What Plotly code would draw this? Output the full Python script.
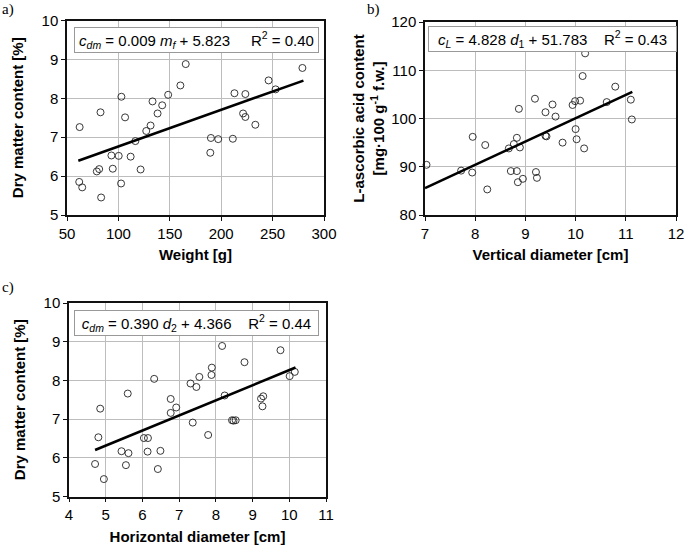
import plotly.graph_objects as go

# ---- Panel a: weight vs dry matter ----
a_weight = [61.9, 64.8, 62.3, 79.0, 81.3, 82.6, 83.2, 93.2, 94.5, 100.3, 102.6, 102.9,
            106.5, 111.9, 116.5, 121.6, 127.1, 131.3, 133.2, 138.1, 142.6, 148.4, 160.3,
            165.5, 189.4, 190.0, 197.1, 211.3, 212.9, 221.3, 223.5, 223.5, 233.2, 246.1,
            252.9, 279.0]
a_dm = [5.85, 5.71, 7.26, 6.12, 6.18, 7.64, 5.45, 6.53, 6.19, 6.52, 5.81, 8.04,
        7.51, 6.50, 6.90, 6.17, 7.16, 7.30, 7.92, 7.61, 7.82, 8.09, 8.33,
        8.88, 6.60, 6.98, 6.95, 6.96, 8.13, 7.61, 8.11, 7.52, 7.32, 8.46,
        8.23, 8.78]
a_fit = (0.0094, 5.823)
a_fit_x = [61, 280]

# ---- Panel b: vertical diameter vs L-ascorbic acid ----
b_diam = [7.03, 7.72, 7.94, 7.95, 8.20, 8.24, 8.67, 8.71, 8.77, 8.83, 8.83, 8.85,
          8.87, 8.89, 8.95, 9.19, 9.21, 9.23, 9.40, 9.40, 9.42, 9.54, 9.60, 9.74,
          9.94, 9.99, 10.00, 10.02, 10.09, 10.14, 10.17, 10.19, 10.62, 10.79, 11.10, 11.12]
b_acid = [90.4, 89.2, 88.8, 96.2, 94.5, 85.3, 93.8, 89.1, 94.7, 96.0, 89.1, 86.8,
          102.0, 94.0, 87.5, 104.1, 88.9, 87.7, 101.3, 96.4, 96.3, 102.9, 100.4, 95.0,
          102.8, 103.6, 97.8, 95.7, 103.7, 108.8, 93.8, 113.5, 103.4, 106.6, 103.9, 99.8]
b_fit = (4.828, 51.783)
b_fit_x = [7.0, 11.13]

# ---- Panel c: horizontal diameter vs dry matter ----
c_diam = [4.71, 4.80, 4.85, 4.95, 5.43, 5.55, 5.60, 5.62, 6.04, 6.15, 6.14, 6.32,
          6.42, 6.49, 6.77, 6.77, 6.92, 7.31, 7.37, 7.47, 7.55, 7.79, 7.88, 7.89,
          8.17, 8.24, 8.44, 8.48, 8.54, 8.78, 9.23, 9.29, 9.27, 9.76, 10.01, 10.15]
c_dm = [5.84, 6.53, 7.27, 5.45, 6.17, 5.81, 7.66, 6.12, 6.51, 6.51, 6.16, 8.04,
        5.71, 6.18, 7.52, 7.16, 7.30, 7.92, 6.91, 7.83, 8.09, 6.59, 8.14, 8.33,
        8.89, 7.61, 6.97, 6.96, 6.97, 8.47, 7.53, 7.59, 7.33, 8.78, 8.11, 8.22]
c_fit = (0.390, 4.366)
c_fit_x = [4.71, 10.17]

W, H = 685, 546
def px(x): return x / W
def py(y): return 1 - y / H

FONT = "Liberation Sans"
marker = dict(symbol="circle-open", size=7, color="#222222", line=dict(width=0.9, color="#222222"))

fig = go.Figure()
panels = [
    ("x", "y", a_weight, a_dm, a_fit, a_fit_x),
    ("x2", "y2", b_diam, b_acid, b_fit, b_fit_x),
    ("x3", "y3", c_diam, c_dm, c_fit, c_fit_x),
]
for xa, ya, xs, ys, fit, fx in panels:
    fig.add_trace(go.Scatter(x=xs, y=ys, mode="markers", marker=marker, xaxis=xa, yaxis=ya,
                             showlegend=False, cliponaxis=False))
    fig.add_trace(go.Scatter(x=fx, y=[fit[0] * v + fit[1] for v in fx], mode="lines",
                             line=dict(color="black", width=2.6), xaxis=xa, yaxis=ya,
                             showlegend=False))

def ax(domain, rng, dtick, title, anchor, standoff):
    return dict(domain=domain, range=rng, dtick=dtick, tick0=rng[0], anchor=anchor,
                showgrid=True, gridcolor="#bdbdbd", gridwidth=1,
                showline=True, linecolor="#111111", linewidth=1.5, mirror=True,
                ticks="outside", ticklen=4, tickcolor="#111111", zeroline=False,
                tickfont=dict(family=FONT, size=15, color="black"),
                title=dict(text=title, font=dict(family=FONT, size=15, color="black"),
                           standoff=standoff),
                automargin=False)

fig.update_layout(
    width=W, height=H, margin=dict(l=0, r=0, t=0, b=0),
    paper_bgcolor="white", plot_bgcolor="white",
    xaxis=ax([px(67), px(324)], [50, 300], 50, "<b>Weight [g]</b>", "y", 9),
    yaxis=ax([py(215), py(20.5)], [5, 10], 1, "<b>Dry matter content [%]</b>", "x", 14),
    xaxis2=ax([px(425), px(676)], [7, 12], 1, "<b>Vertical diameter [cm]</b>", "y2", 9),
    yaxis2=ax([py(215), py(22)], [80, 120], 10,
              "<b>L-ascorbic acid content<br>[mg·100 g<sup>-1</sup> f.w.]</b>", "x2", 3),
    xaxis3=ax([px(69), px(326)], [4, 11], 1, "<b>Horizontal diameter [cm]</b>", "y3", 9),
    yaxis3=ax([py(496.5), py(303)], [5, 10], 1, "<b>Dry matter content [%]</b>", "x3", 14),
)

sp = "&#160;"
eqs = [
    ("<i>c</i><sub><i>dm</i></sub> = 0.009 <i>m</i><sub><i>f</i></sub> + 5.823" + sp * 5 + "R<sup>2</sup> = 0.40",
     196.5, 40, 243),
    ("<i>c</i><sub><i>L</i></sub> = 4.828 <i>d</i><sub>1</sub> + 51.783" + sp * 4 + "R<sup>2</sup> = 0.43",
     552.5, 39.5, 247),
    ("<i>c</i><sub><i>dm</i></sub> = 0.390 <i>d</i><sub>2</sub> + 4.366" + sp * 4 + "R<sup>2</sup> = 0.44",
     196.5, 322.5, 243),
]
for text, cx, cy, w in eqs:
    fig.add_annotation(text=text, xref="paper", yref="paper", x=px(cx), y=py(cy),
                       xanchor="center", yanchor="middle", showarrow=False,
                       width=w, height=24, bgcolor="white", bordercolor="#999999",
                       borderwidth=1, borderpad=0,
                       font=dict(family=FONT, size=15, color="black"))

for lab, x, y in [("a)", 0, 9), ("b)", 365, 9), ("c)", 0, 287)]:
    fig.add_annotation(text=lab, xref="paper", yref="paper", x=px(x), y=py(y),
                       xanchor="left", yanchor="middle", showarrow=False,
                       font=dict(family="Liberation Serif", size=15, color="black"))

fig.write_html("out.html", config={"displayModeBar": False},
               post_script="document.body.style.margin='0';document.body.style.padding='0';")
